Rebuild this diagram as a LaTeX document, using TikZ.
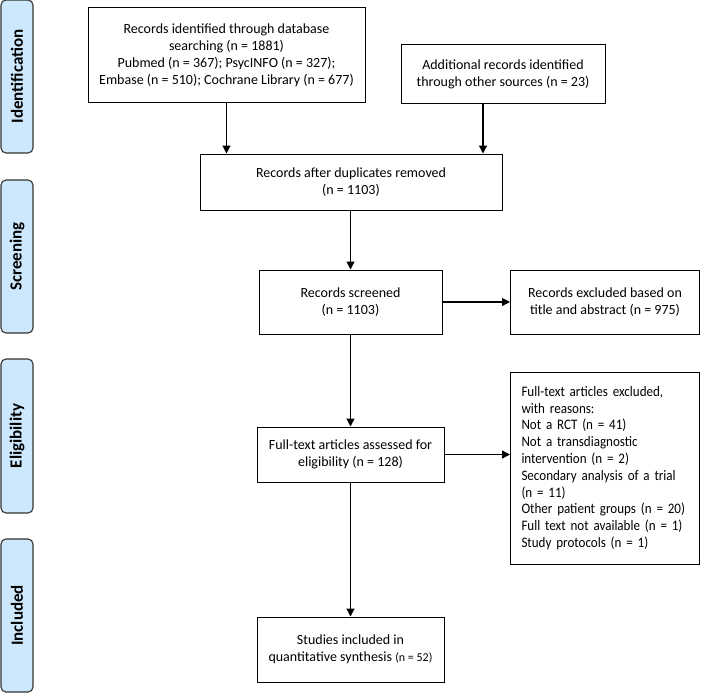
\documentclass[tikz,border=0pt]{standalone}
\usepackage{fontspec}
\setmainfont{Carlito}
\newfontfamily\condfont[FakeStretch=0.9]{Carlito}
\usetikzlibrary{arrows.meta}
\definecolor{barfill}{HTML}{CDE8FC}
\definecolor{barline}{HTML}{333333}
\tikzset{
  box/.style={draw=black, line width=1pt, fill=white, inner sep=0pt, align=center,
    font=\fontsize{14}{17}\selectfont},
  phase/.style={draw=barline, line width=1.1pt, fill=barfill, rounded corners=5pt},
  phasetext/.style={rotate=90, font=\fontsize{17}{19}\selectfont\bfseries, text=black},
  flow/.style={line width=1.2pt, -{Triangle[length=8pt,width=8pt]}}
}
\begin{document}
\begin{tikzpicture}[x=1pt,y=-1pt]
\useasboundingbox (0,0) rectangle (701,693);
% phase bars
\draw[phase] (1,0) rectangle (33,153);
\node[phasetext] (pid) at (17,76.5) {Identification};
\draw[phase] (1,180) rectangle (33,333);
\node[phasetext] (psc) at (17,256.5) {Screening};
\draw[phase] (1,359) rectangle (33,513);
\node[phasetext] (pel) at (17,436) {Eligibility};
\draw[phase] (1,539) rectangle (33,692);
\node[phasetext] (pin) at (17,615.5) {Included};
% boxes
\node[box, minimum width=277pt, minimum height=94pt] (b1) at (226.5,55)
  {Records identified through database\\searching (n = 1881)\\Pubmed (n = 367); PsycINFO (n = 327);\\Embase (n = 510); Cochrane Library (n = 677)};
\node[box, minimum width=204pt, minimum height=58pt] (b2) at (503,74)
  {Additional records identified\\through other sources (n = 23)};
\node[box, minimum width=302pt, minimum height=56pt] (b3) at (351,182)
  {Records after duplicates removed\\(n = 1103)};
\node[box, minimum width=183pt, minimum height=64pt] (b4) at (350.5,302)
  {Records screened\\(n = 1103)};
\node[box, minimum width=189pt, minimum height=64pt] (b5) at (605,302)
  {Records excluded based on\\title and abstract (n = 975)};
\node[box, minimum width=187pt, minimum height=55pt] (b6) at (350.5,454.5)
  {Full-text articles assessed for\\eligibility (n = 128)};
\node[box, minimum width=189pt, minimum height=192pt, align=left, text width=167pt,
  font=\condfont\fontsize{14.5}{16.8}\selectfont] (b7) at (605,468)
  {Full-text articles excluded,\\with reasons:\\Not a RCT (n = 41)\\Not a transdiagnostic\\intervention (n = 2)\\Secondary analysis of a trial\\(n = 11)\\Other patient groups (n = 20)\\Full text not available (n = 1)\\Study protocols (n = 1)};
\node[box, minimum width=187pt, minimum height=65pt] (b8) at (350.5,649.5)
  {Studies included in\\quantitative synthesis {\fontsize{12}{14}\selectfont(n = 52)}};
% connectors
\coordinate (a2) at (483,103);
\draw[flow] (b1.south) -- (b1.south |- b3.north);
\draw[flow] (a2) -- (a2 |- b3.north);
\draw[flow] (b3.south -| b4.north) -- (b4.north);
\draw[flow] (b4.east) -- (b5.west);
\draw[flow] (b4.south) -- (b6.north);
\draw[flow] (b6.east) -- (b6.east -| b7.west);
\draw[flow] (b6.south) -- (b8.north);
\end{tikzpicture}
\end{document}
